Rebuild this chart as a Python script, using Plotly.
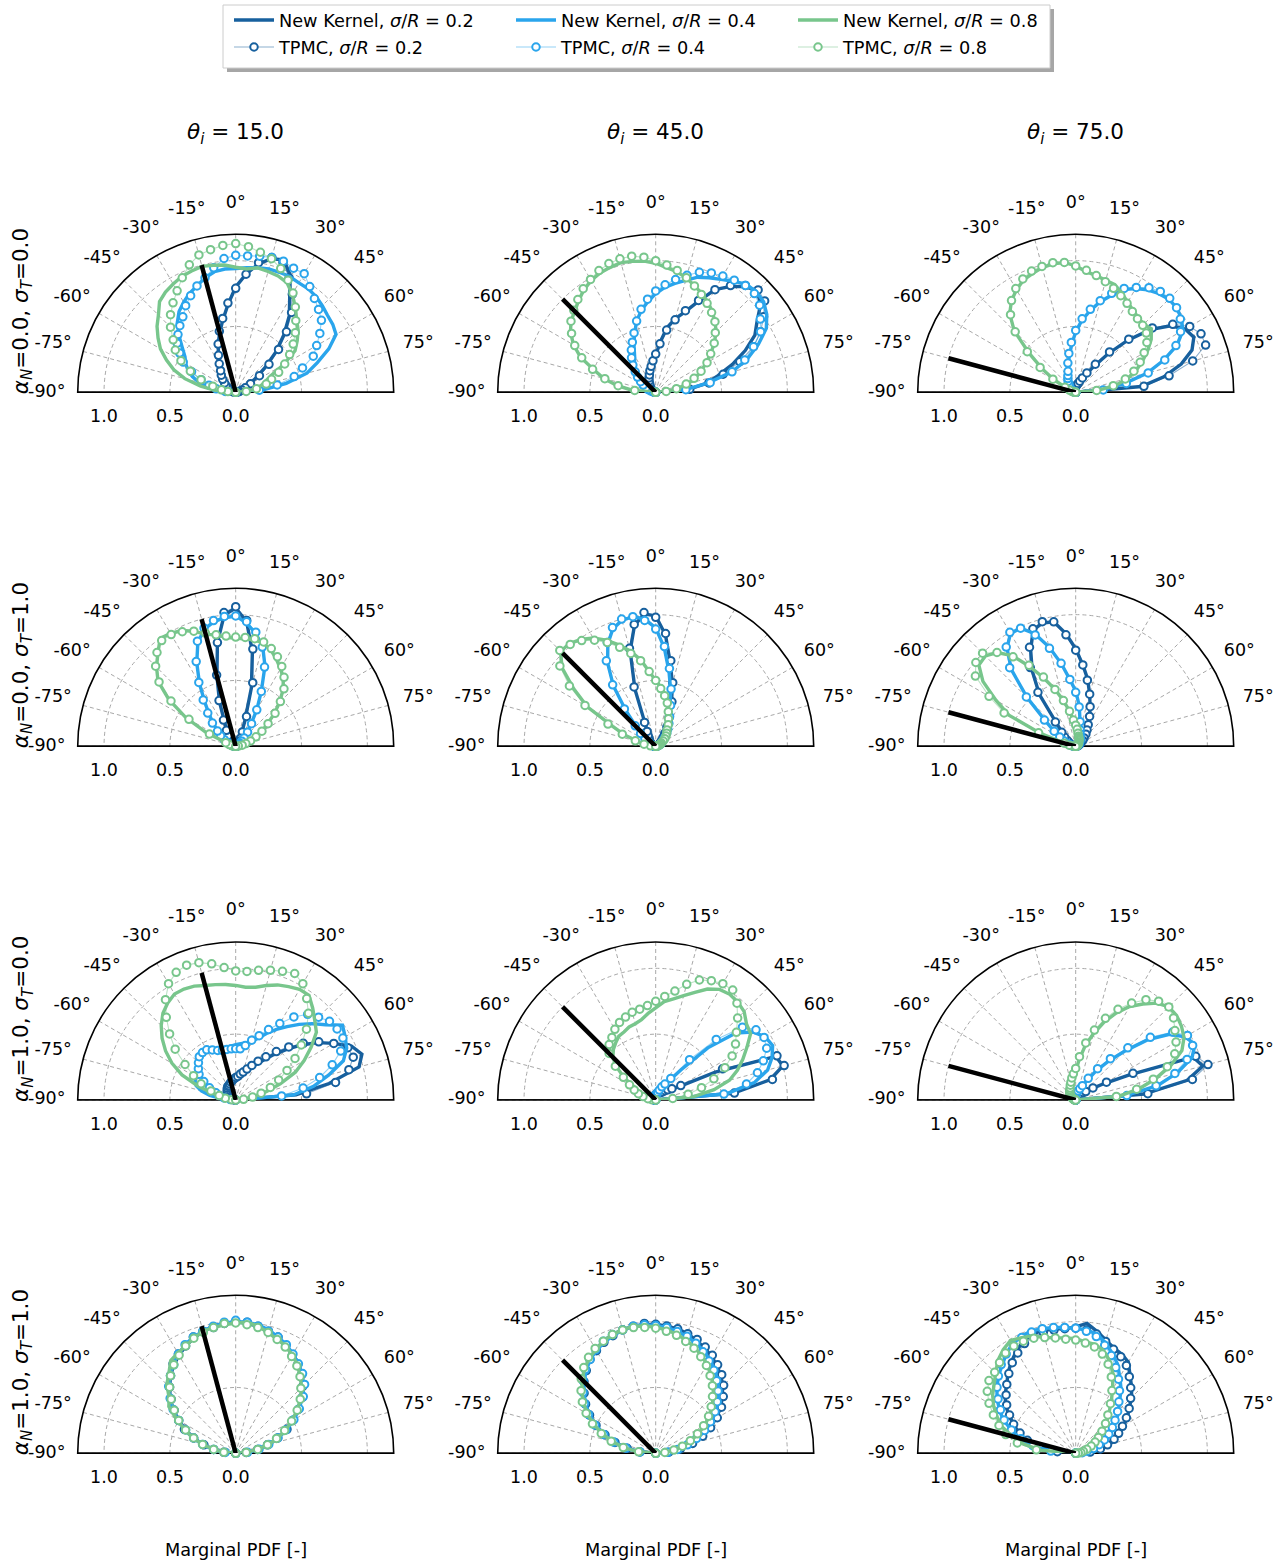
import plotly.graph_objects as go

W, H = 1288, 1564

THETA = [-90, -85, -80, -75, -70, -65, -60, -55, -50, -45, -40, -35, -30, -25, -20, -15, -10, -5,
         0, 5, 10, 15, 20, 25, 30, 35, 40, 45, 50, 55, 60, 65, 70, 75, 80, 85, 90]
ROW_KEYS = ["A0S0", "A0S1", "A1S0", "A1S1"]
ROW_LABELS = [
    "<i>α</i><sub><i>N</i></sub>=0.0, <i>σ</i><sub><i>T</i></sub>=0.0",
    "<i>α</i><sub><i>N</i></sub>=0.0, <i>σ</i><sub><i>T</i></sub>=1.0",
    "<i>α</i><sub><i>N</i></sub>=1.0, <i>σ</i><sub><i>T</i></sub>=0.0",
    "<i>α</i><sub><i>N</i></sub>=1.0, <i>σ</i><sub><i>T</i></sub>=1.0",
]
COL_KEYS = ["T15", "T45", "T75"]
THETA_I = [15.0, 45.0, 75.0]
SIGMA_KEYS = ["02", "04", "08"]
SIGMA_LABELS = ["0.2", "0.4", "0.8"]
COLORS = ["#17609e", "#2aa5ec", "#78c68c"]
ANG_TICKS = [-90, -75, -60, -45, -30, -15, 0, 15, 30, 45, 60, 75]
ANG_TEXT = ["-90°", "-75°", "-60°", "-45°", "-30°", "-15°", "0°", "15°", "30°", "45°", "60°", "75°"]
ANG_LABEL_R = 1.435
R_TICKS = [0.0, 0.5, 1.0]
R_TEXT = ["0.0", "0.5", "1.0"]
R_MAX = 1.2
LABEL_RANGE = 1.5
INCIDENT_R = 1.0
XLABEL = "Marginal PDF [-]"

# ---------------- row 1: alpha_N = 0, sigma_T = 0 ----------------
NK02_A0S0_T15 = [0, .01, .02, .03, .04, .05, .07, .09, .11, .13, .16, .2, .24, .31, .39, .47, .56, .67, .8, .9, .99, 1.05, 1.07, .98, .82, .71, .57, .43, .29, .18, .11, .07, .04, .02, .01, .01, 0]
TP02_A0S0_T15 = [0, .01, .02, .03, .04, .05, .07, .09, .11, .14, .17, .2, .25, .31, .39, .48, .57, .68, .79, .9, 1.0, 1.06, 1.05, .96, .86, .74, .6, .46, .33, .22, .13, .08, .05, .03, .02, .01, 0]
NK04_A0S0_T15 = [0, .1, .2, .29, .35, .4, .44, .47, .53, .61, .69, .75, .79, .83, .86, .9, .93, .94, .94, .95, .96, .97, .97, .97, .96, .96, .95, .93, .91, .9, .88, .78, .66, .56, .39, .21, 0]
TP04_A0S0_T15 = [0, .08, .15, .21, .28, .37, .46, .52, .58, .62, .66, .7, .76, .81, .86, .9, .96, 1.02, 1.04, 1.04, 1.05, 1.06, 1.06, 1.04, 1.04, .98, .93, .89, .85, .78, .71, .65, .54, .46, .32, .18, 0]
NK08_A0S0_T15 = [0, .15, .27, .4, .5, .58, .66, .72, .78, .83, .9, .93, .95, .97, .98, .99, .98, .97, .95, .94, .96, .95, .94, .92, .86, .79, .72, .67, .61, .55, .42, .29, .24, .2, .15, .09, 0]
TP08_A0S0_T15 = [0, .06, .11, .18, .28, .38, .48, .56, .62, .7, .77, .83, .89, .96, 1.03, 1.08, 1.1, 1.12, 1.13, 1.11, 1.08, 1.05, 1.0, .94, .87, .79, .71, .64, .57, .5, .43, .36, .29, .24, .16, .08, 0]

NK02_A0S0_T45 = [0, 0, .01, .01, .02, .02, .03, .04, .05, .06, .07, .08, .1, .12, .14, .17, .21, .25, .28, .38, .5, .58, .65, .76, .9, .98, 1.05, 1.09, 1.04, .94, .87, .75, .62, .49, .39, .25, 0]
TP02_A0S0_T45 = [0, 0, .01, .01, .02, .02, .03, .04, .05, .06, .07, .08, .1, .12, .14, .17, .2, .24, .29, .37, .48, .57, .66, .77, .9, .99, 1.06, 1.1, 1.08, 1.0, .92, .82, .68, .53, .41, .26, 0]
NK04_A0S0_T45 = [0, .01, .02, .04, .06, .08, .1, .13, .16, .2, .24, .28, .32, .39, .47, .56, .63, .69, .75, .8, .84, .88, .93, .96, .99, 1.03, 1.07, 1.08, 1.07, 1.03, .97, .86, .74, .6, .4, .22, 0]
TP04_A0S0_T45 = [0, .01, .02, .04, .06, .08, .11, .14, .18, .22, .27, .32, .37, .42, .48, .56, .64, .71, .77, .82, .87, .92, .97, 1.0, 1.02, 1.04, 1.06, 1.06, 1.03, .97, .92, .82, .72, .6, .42, .23, 0]
NK08_A0S0_T45 = [0, .18, .3, .41, .5, .63, .72, .79, .84, .87, .91, .95, .98, 1.0, 1.01, 1.02, 1.01, 1.0, .98, .95, .93, .9, .86, .83, .79, .75, .7, .65, .58, .51, .44, .38, .32, .25, .17, .09, 0]
TP08_A0S0_T45 = [0, .16, .29, .4, .51, .62, .71, .78, .84, .88, .92, .96, .99, 1.02, 1.04, 1.05, 1.05, 1.03, 1.0, .97, .94, .9, .86, .82, .78, .74, .7, .64, .58, .51, .45, .38, .31, .24, .16, .08, 0]

NK02_A0S0_T75 = [0, 0, 0, 0, 0, .01, .01, .01, .01, .01, .02, .02, .02, .02, .03, .03, .03, .04, .04, .05, .06, .07, .09, .12, .16, .24, .38, .56, .74, .88, .96, .99, .94, .83, .68, .5, 0]
TP02_A0S0_T75 = [0, 0, 0, 0, 0, .01, .01, .01, .01, .01, .02, .02, .02, .02, .03, .03, .03, .04, .04, .05, .06, .07, .09, .12, .17, .26, .4, .57, .76, .9, 1.0, 1.05, 1.05, .92, .72, .52, 0]
NK04_A0S0_T75 = [0, 0, .01, .01, .02, .03, .04, .05, .06, .07, .08, .1, .12, .14, .16, .22, .28, .36, .46, .55, .63, .71, .78, .86, .91, .95, .98, 1.0, 1.0, .98, .94, .85, .71, .56, .37, .2, 0]
TP04_A0S0_T75 = [0, 0, .01, .01, .02, .03, .04, .05, .06, .07, .08, .1, .12, .14, .17, .23, .3, .38, .47, .56, .64, .72, .8, .87, .92, .97, 1.0, 1.01, 1.0, .97, .92, .84, .72, .57, .39, .21, 0]
NK08_A0S0_T75 = [0, .01, .02, .03, .05, .08, .19, .31, .46, .66, .78, .85, .9, .94, .96, .98, .99, .99, .96, .92, .9, .88, .87, .83, .79, .76, .74, .73, .75, .7, .63, .56, .49, .41, .31, .17, 0]
TP08_A0S0_T75 = [0, .01, .02, .03, .05, .09, .2, .33, .48, .65, .77, .85, .91, .95, .98, .99, 1.0, .99, .96, .93, .9, .87, .84, .81, .78, .75, .73, .72, .7, .66, .6, .54, .47, .39, .29, .16, 0]

# ---------------- row 2: alpha_N = 0, sigma_T = 1 ----------------
NK02_A0S1_T15 = [0, .01, .01, .01, .02, .02, .03, .04, .05, .06, .08, .1, .13, .2, .36, .55, .8, 1.0, 1.05, .95, .73, .46, .2, .1, .07, .05, .04, .03, .02, .02, .01, .01, .01, .01, 0, 0, 0]
TP02_A0S1_T15 = [0, .01, .01, .01, .02, .02, .03, .04, .05, .06, .08, .1, .14, .22, .37, .56, .8, 1.02, 1.06, .96, .75, .5, .24, .12, .07, .05, .04, .03, .02, .02, .01, .01, .01, .01, 0, 0, 0]
NK04_A0S1_T15 = [0, .01, .02, .03, .05, .07, .1, .13, .17, .24, .31, .41, .55, .7, .84, .92, .96, .98, .99, .94, .87, .79, .65, .46, .32, .2, .13, .09, .06, .04, .03, .02, .01, .01, 0, 0, 0]
TP04_A0S1_T15 = [0, .01, .02, .03, .05, .07, .1, .14, .18, .25, .33, .43, .56, .71, .85, .93, .97, .99, .99, .95, .88, .78, .64, .46, .32, .21, .14, .09, .06, .04, .03, .02, .01, .01, 0, 0, 0]
NK08_A0S1_T15 = [0, .02, .04, .06, .07, .25, .44, .62, .77, .85, .92, 1.0, .99, .97, .93, .88, .86, .83, .82, .82, .82, .81, .78, .73, .68, .63, .56, .47, .38, .29, .23, .17, .12, .08, .05, .02, 0]
TP08_A0S1_T15 = [0, .02, .03, .05, .08, .22, .41, .6, .76, .86, .93, .98, .98, .96, .93, .89, .86, .84, .83, .83, .83, .82, .79, .75, .7, .64, .57, .48, .39, .3, .23, .17, .12, .08, .05, .02, 0]

NK02_A0S1_T45 = [0, .01, .01, .02, .02, .03, .04, .05, .06, .07, .08, .1, .12, .19, .46, .75, .93, 1.01, .99, .85, .64, .49, .35, .23, .17, .12, .09, .07, .05, .04, .03, .02, .02, .01, .01, 0, 0]
TP02_A0S1_T45 = [0, .01, .01, .02, .02, .03, .04, .05, .06, .07, .08, .1, .13, .2, .48, .77, .94, 1.02, .98, .86, .66, .5, .36, .24, .17, .12, .09, .07, .05, .04, .03, .02, .02, .01, .01, 0, 0]
NK04_A0S1_T45 = [0, .01, .02, .03, .04, .05, .07, .1, .15, .21, .35, .56, .73, .86, .95, .99, 1.0, .97, .9, .75, .58, .44, .32, .25, .2, .16, .13, .1, .08, .06, .05, .04, .03, .02, .01, .01, 0]
TP04_A0S1_T45 = [0, .01, .02, .03, .04, .05, .07, .1, .15, .22, .37, .57, .75, .87, .96, 1.0, 1.0, .96, .89, .76, .6, .45, .33, .25, .2, .16, .13, .1, .08, .06, .05, .04, .03, .02, .01, .01, 0]
NK08_A0S1_T45 = [0, .04, .08, .14, .25, .36, .6, .76, .93, 1.02, 1.02, .99, .95, .89, .82, .75, .67, .57, .5, .45, .4, .34, .29, .23, .19, .16, .13, .11, .09, .07, .05, .04, .03, .02, .01, .01, 0]
TP08_A0S1_T45 = [0, .04, .09, .16, .27, .4, .62, .8, .95, 1.03, 1.01, .98, .93, .87, .8, .73, .66, .57, .5, .44, .39, .34, .28, .23, .19, .15, .13, .11, .09, .07, .05, .04, .03, .02, .01, .01, 0]

NK02_A0S1_T75 = [0, .01, .02, .03, .04, .05, .06, .08, .11, .14, .22, .48, .66, .81, .94, .97, .96, .86, .74, .62, .52, .41, .32, .25, .19, .15, .12, .09, .07, .05, .04, .03, .02, .02, .01, .01, 0]
TP02_A0S1_T75 = [0, .01, .02, .03, .04, .05, .06, .08, .11, .15, .24, .5, .69, .83, .95, .98, .96, .85, .73, .62, .51, .41, .32, .25, .19, .15, .12, .09, .07, .05, .04, .03, .02, .02, .01, .01, 0]
NK04_A0S1_T75 = [0, .02, .03, .05, .07, .1, .14, .2, .3, .52, .76, .91, .99, .99, .91, .78, .64, .51, .42, .31, .19, .13, .1, .08, .07, .06, .05, .04, .03, .03, .02, .02, .01, .01, .01, 0, 0]
TP04_A0S1_T75 = [0, .02, .03, .05, .07, .1, .14, .2, .31, .53, .78, .92, 1.0, .99, .9, .77, .64, .51, .41, .3, .19, .13, .1, .08, .07, .06, .05, .04, .03, .03, .02, .02, .01, .01, .01, 0, 0]
NK08_A0S1_T75 = [0, .02, .05, .08, .28, .56, .7, .86, .96, .97, .93, .84, .7, .57, .46, .36, .27, .2, .16, .13, .1, .08, .07, .06, .05, .04, .03, .03, .02, .02, .01, .01, .01, .01, 0, 0, 0]
TP08_A0S1_T75 = [0, .02, .05, .09, .3, .6, .76, .93, .99, 1.0, .93, .83, .71, .58, .46, .36, .27, .2, .16, .13, .1, .08, .07, .06, .05, .04, .03, .03, .02, .02, .01, .01, .01, .01, 0, 0, 0]

# ---------------- row 3: alpha_N = 1, sigma_T = 0 ----------------
NK02_A1S0_T15 = [0, .01, .02, .03, .04, .05, .06, .07, .08, .09, .1, .11, .12, .12, .13, .14, .15, .16, .17, .18, .19, .21, .23, .27, .31, .37, .45, .54, .65, .76, .86, .97, 1.02, .97, .72, .46, 0]
TP02_A1S0_T15 = [0, .01, .02, .03, .04, .05, .06, .07, .08, .09, .1, .11, .12, .12, .13, .14, .15, .16, .17, .18, .2, .22, .25, .29, .34, .4, .48, .57, .67, .77, .86, .94, .95, .89, .77, .54, 0]
NK04_A1S0_T15 = [0, .1, .2, .27, .32, .34, .35, .36, .38, .4, .42, .43, .43, .42, .41, .41, .41, .41, .42, .43, .44, .46, .5, .56, .62, .68, .75, .82, .89, .99, .96, .93, .87, .73, .6, .44, 0]
TP04_A1S0_T15 = [0, .04, .09, .13, .16, .22, .28, .34, .37, .4, .43, .44, .44, .42, .4, .39, .39, .39, .39, .39, .42, .47, .52, .59, .67, .77, .85, .89, .93, .94, .94, .88, .78, .66, .52, .35, 0]
NK08_A1S0_T15 = [0, .02, .06, .15, .3, .45, .56, .65, .73, .8, .86, .9, .93, .93, .92, .9, .89, .88, .87, .86, .87, .9, .93, .95, .97, .97, .91, .85, .8, .7, .6, .5, .36, .24, .12, .05, 0]
TP08_A1S0_T15 = [0, .03, .08, .13, .2, .29, .37, .47, .6, .71, .82, .93, 1.02, 1.07, 1.09, 1.08, 1.05, 1.01, .98, .98, 1.0, 1.02, 1.04, 1.06, 1.02, .94, .86, .76, .65, .55, .45, .36, .28, .2, .13, .06, 0]

NK02_A1S0_T45 = [0, .01, .01, .01, .01, .01, .01, .02, .02, .02, .02, .02, .02, .03, .03, .03, .03, .03, .04, .04, .05, .05, .06, .06, .07, .07, .08, .09, .11, .14, .2, .5, .97, 1.0, .88, .59, 0]
TP02_A1S0_T45 = [0, .01, .01, .01, .01, .01, .01, .02, .02, .02, .02, .02, .02, .03, .03, .03, .03, .03, .04, .04, .05, .05, .06, .06, .07, .07, .08, .1, .12, .15, .22, .56, .98, 1.01, .9, .6, 0]
NK04_A1S0_T45 = [0, .01, .01, .01, .01, .01, .02, .02, .02, .02, .02, .02, .03, .03, .03, .03, .03, .03, .04, .04, .05, .06, .08, .1, .13, .18, .3, .56, .79, .9, .96, .98, .94, .88, .76, .54, 0]
TP04_A1S0_T45 = [0, .01, .01, .01, .01, .01, .02, .02, .02, .02, .02, .02, .03, .03, .03, .03, .03, .03, .04, .04, .05, .06, .08, .11, .14, .2, .4, .65, .86, .93, .95, .93, .87, .8, .7, .52, 0]
NK08_A1S0_T45 = [0, .02, .04, .07, .1, .13, .17, .29, .38, .46, .5, .53, .56, .57, .59, .6, .62, .66, .7, .75, .78, .82, .87, .93, .97, .98, .97, .95, .9, .88, .8, .73, .66, .58, .45, .29, 0]
TP08_A1S0_T45 = [0, .03, .06, .1, .14, .18, .23, .3, .4, .5, .55, .58, .62, .65, .67, .69, .7, .72, .75, .79, .84, .91, .97, 1.0, 1.02, 1.02, .96, .88, .8, .74, .67, .58, .47, .36, .25, .13, 0]

NK02_A1S0_T75 = [0, 0, 0, 0, .01, .01, .01, .01, .01, .01, .01, .01, .01, .02, .02, .02, .02, .02, .02, .03, .03, .03, .04, .04, .05, .05, .06, .08, .1, .15, .25, .45, .95, 1.0, .86, .52, 0]
TP02_A1S0_T75 = [0, 0, 0, 0, .01, .01, .01, .01, .01, .01, .01, .01, .01, .02, .02, .02, .02, .02, .02, .03, .03, .03, .04, .04, .05, .05, .06, .08, .1, .16, .27, .48, .97, 1.04, .9, .55, 0]
NK04_A1S0_T75 = [0, 0, 0, .01, .01, .01, .01, .01, .01, .02, .02, .02, .02, .02, .03, .03, .03, .04, .04, .05, .06, .07, .09, .12, .17, .27, .38, .52, .71, .87, .96, 1.0, .94, .8, .63, .38, 0]
TP04_A1S0_T75 = [0, 0, 0, .01, .01, .01, .01, .01, .01, .02, .02, .02, .02, .02, .03, .03, .03, .04, .04, .05, .06, .07, .09, .12, .19, .29, .41, .56, .74, .9, .98, .98, .9, .78, .62, .39, 0]
NK08_A1S0_T75 = [0, .01, .01, .01, .02, .02, .03, .04, .05, .06, .07, .08, .09, .1, .11, .13, .16, .19, .22, .31, .42, .52, .63, .73, .82, .89, .96, 1.0, 1.0, .98, .95, .89, .77, .63, .49, .33, 0]
TP08_A1S0_T75 = [0, .01, .01, .01, .02, .02, .03, .04, .05, .06, .07, .08, .09, .1, .12, .14, .17, .2, .24, .33, .44, .55, .66, .76, .85, .93, .98, 1.0, .97, .92, .88, .83, .74, .61, .47, .31, 0]

# ---------------- row 4: alpha_N = 1, sigma_T = 1 ----------------
NK02_A1S1_T15 = [0, .08, .17, .26, .34, .42, .5, .58, .65, .71, .77, .82, .86, .9, .93, .96, .98, .99, 1.0, .99, .98, .96, .93, .9, .87, .83, .78, .73, .66, .58, .5, .42, .34, .26, .17, .09, 0]
TP02_A1S1_T15 = [0, .09, .17, .25, .34, .43, .5, .57, .64, .71, .77, .83, .87, .9, .94, .96, .97, .99, 1.0, 1.0, .98, .96, .94, .9, .86, .82, .78, .72, .66, .58, .5, .43, .34, .25, .17, .08, 0]
NK04_A1S1_T15 = [0, .09, .18, .26, .35, .43, .51, .58, .66, .72, .78, .83, .87, .91, .94, .96, .98, .99, 1.0, 1.0, .99, .97, .94, .91, .87, .83, .78, .73, .66, .59, .51, .43, .35, .26, .17, .09, 0]
TP04_A1S1_T15 = [0, .08, .17, .26, .34, .42, .5, .58, .65, .72, .77, .82, .87, .91, .94, .96, .98, 1.0, 1.01, 1.0, .98, .96, .94, .91, .87, .83, .79, .74, .67, .59, .51, .42, .34, .26, .18, .09, 0]
NK08_A1S1_T15 = [0, .09, .17, .26, .35, .43, .52, .62, .66, .74, .79, .86, .88, .9, .93, .96, .97, .98, .99, 1.0, .98, .95, .92, .9, .86, .82, .76, .71, .64, .57, .49, .42, .34, .26, .17, .08, 0]
TP08_A1S1_T15 = [0, .09, .17, .26, .34, .42, .5, .57, .64, .71, .77, .82, .86, .9, .93, .95, .97, .99, .99, .98, .97, .95, .92, .89, .85, .81, .76, .7, .64, .57, .49, .41, .33, .25, .17, .08, 0]

NK02_A1S1_T45 = [0, .12, .23, .33, .42, .5, .58, .65, .72, .78, .83, .87, .91, .94, .96, .97, .98, .98, .98, .97, .96, .94, .91, .88, .85, .81, .77, .72, .66, .6, .53, .45, .37, .28, .19, .1, 0]
TP02_A1S1_T45 = [0, .12, .22, .32, .41, .5, .58, .65, .71, .77, .82, .87, .9, .93, .95, .97, .98, .99, .98, .97, .96, .94, .92, .89, .86, .82, .78, .73, .67, .61, .54, .46, .38, .29, .19, .1, 0]
NK04_A1S1_T45 = [0, .12, .23, .33, .42, .5, .58, .65, .71, .77, .82, .87, .9, .93, .95, .97, .98, .98, .97, .96, .94, .92, .89, .86, .82, .78, .73, .68, .62, .56, .49, .42, .34, .26, .17, .09, 0]
TP04_A1S1_T45 = [0, .12, .23, .33, .42, .51, .59, .66, .72, .78, .83, .87, .91, .94, .96, .97, .98, .98, .97, .96, .94, .92, .89, .85, .81, .77, .72, .67, .61, .55, .48, .41, .33, .25, .17, .09, 0]
NK08_A1S1_T45 = [0, .13, .24, .34, .43, .52, .6, .67, .73, .79, .84, .88, .91, .94, .96, .97, .98, .97, .96, .94, .92, .89, .86, .82, .78, .73, .68, .62, .56, .5, .43, .36, .29, .22, .15, .08, 0]
TP08_A1S1_T45 = [0, .13, .25, .35, .44, .53, .61, .68, .74, .8, .85, .89, .92, .94, .96, .97, .97, .96, .95, .93, .91, .88, .85, .81, .77, .72, .67, .61, .55, .49, .42, .35, .28, .21, .14, .07, 0]

NK02_A1S1_T75 = [0, .15, .3, .39, .46, .52, .59, .65, .7, .74, .8, .85, .9, .94, .96, .97, .96, .95, .96, .99, .94, .89, .85, .83, .8, .72, .66, .6, .53, .48, .42, .37, .32, .27, .21, .12, 0]
TP02_A1S1_T75 = [0, .14, .28, .38, .45, .52, .58, .64, .69, .74, .79, .84, .88, .92, .94, .95, .95, .95, .95, .94, .92, .88, .84, .81, .77, .71, .65, .59, .53, .47, .41, .36, .31, .25, .19, .11, 0]
NK04_A1S1_T75 = [0, .2, .34, .44, .52, .61, .67, .73, .78, .83, .87, .92, .96, .98, .99, .98, .97, .96, .95, .94, .92, .87, .81, .75, .67, .6, .52, .46, .41, .35, .29, .25, .2, .15, .1, .05, 0]
TP04_A1S1_T75 = [0, .19, .33, .43, .52, .6, .66, .72, .78, .83, .88, .92, .95, .97, .98, .98, .97, .96, .95, .93, .9, .85, .79, .72, .65, .58, .51, .45, .39, .34, .29, .24, .19, .14, .09, .05, 0]
NK08_A1S1_T75 = [0, .27, .4, .5, .6, .66, .72, .77, .81, .86, .92, .96, .99, .97, .95, .91, .89, .88, .87, .85, .84, .81, .75, .67, .56, .47, .39, .33, .27, .22, .17, .13, .09, .06, .04, .02, 0]
TP08_A1S1_T75 = [0, .3, .45, .55, .62, .69, .76, .82, .86, .87, .9, .93, .94, .94, .93, .91, .89, .87, .86, .84, .82, .78, .72, .64, .55, .46, .38, .32, .26, .21, .17, .13, .09, .06, .04, .02, 0]

# ---------------- layout geometry (pixels) ----------------
CX = [235.7, 655.7, 1075.7]
BY = [392.3, 746.3, 1100.0, 1453.3]
RAD = 158.0
RAD_LBL = RAD * LABEL_RANGE / R_MAX
FONT = "DejaVu Sans"
TICK_SIZE = 17.5
R_LABEL_PAD = 25.6   # invisible marker size that pushes the radial labels below the baseline
GRID = dict(showgrid=True, gridcolor="#a8a8a8", gridwidth=1.0, griddash="4px,3px")


def rgba(hx, a):
    hx = hx.lstrip("#")
    return "rgba(%d,%d,%d,%.2f)" % (int(hx[0:2], 16), int(hx[2:4], 16), int(hx[4:6], 16), a)


HIDDEN_AXIS = dict(showline=False, showgrid=False, showticklabels=False, ticks="")

G = globals()
fig = go.Figure()
layout_polars = {}
n_panels = len(ROW_KEYS) * len(COL_KEYS)

for ri, rk in enumerate(ROW_KEYS):
    for ci, ck in enumerate(COL_KEYS):
        k = ri * 3 + ci + 1
        pname = "polar" if k == 1 else "polar%d" % k
        lname = "polar%d" % (k + n_panels)
        # frame baseline (diameter of the half disc)
        fig.add_trace(go.Scatterpolar(r=[R_MAX, 0, R_MAX], theta=[-90, 0, 90], mode="lines",
                                      line=dict(color="black", width=1.5), subplot=pname,
                                      showlegend=False, hoverinfo="skip", cliponaxis=False))
        for si, sk in enumerate(SIGMA_KEYS):
            nk = G["NK%s_%s_%s" % (sk, rk, ck)]
            tp = G["TP%s_%s_%s" % (sk, rk, ck)]
            assert len(nk) == len(THETA) and len(tp) == len(THETA), (sk, rk, ck)
            first = (k == 1)
            fig.add_trace(go.Scatterpolar(
                r=nk, theta=THETA, mode="lines",
                line=dict(color=COLORS[si], width=3.4),
                name="New Kernel, <i>σ</i>/<i>R</i> = %s" % SIGMA_LABELS[si],
                legend="legend", legendrank=si + 1, showlegend=first, subplot=pname))
            fig.add_trace(go.Scatterpolar(
                r=tp, theta=THETA, mode="lines+markers",
                line=dict(color=rgba(COLORS[si], 0.5), width=1.1),
                marker=dict(symbol="circle", size=7.5, color="white",
                            line=dict(color=COLORS[si], width=2)),
                name="TPMC, <i>σ</i>/<i>R</i> = %s" % SIGMA_LABELS[si],
                legend="legend2", legendrank=si + 1, showlegend=first, subplot=pname))
        fig.add_trace(go.Scatterpolar(r=[0, INCIDENT_R], theta=[-THETA_I[ci], -THETA_I[ci]],
                                      mode="lines", line=dict(color="black", width=4.5),
                                      subplot=pname, showlegend=False, hoverinfo="skip"))
        # radial tick labels: under each tick value on the left half of the baseline
        fig.add_trace(go.Scatterpolar(r=R_TICKS, theta=[-90] * len(R_TICKS),
                                      mode="markers+text", text=R_TEXT,
                                      textposition="bottom center",
                                      marker=dict(size=R_LABEL_PAD, color="rgba(0,0,0,0)",
                                                  line=dict(width=0)),
                                      textfont=dict(family=FONT, size=TICK_SIZE, color="black"),
                                      subplot=pname, showlegend=False, hoverinfo="skip",
                                      cliponaxis=False))

        # angular tick labels live on a transparent overlay polar with the same centre and scale
        fig.add_trace(go.Scatterpolar(r=[ANG_LABEL_R] * len(ANG_TICKS), theta=ANG_TICKS,
                                      mode="text", text=ANG_TEXT, textposition="middle center",
                                      textfont=dict(family=FONT, size=TICK_SIZE, color="black"),
                                      subplot=lname, showlegend=False, hoverinfo="skip",
                                      cliponaxis=False))

        cx, by = CX[ci], BY[ri]
        layout_polars[pname] = dict(
            domain=dict(x=[(cx - RAD) / W, (cx + RAD) / W], y=[1 - by / H, 1 - (by - RAD) / H]),
            sector=[0, 180], bgcolor="white",
            angularaxis=dict(rotation=90, direction="clockwise", tickmode="array",
                             tickvals=ANG_TICKS, showticklabels=False,
                             showline=True, linecolor="black", linewidth=1.6,
                             ticks="", layer="below traces", **GRID),
            radialaxis=dict(range=[0, R_MAX], tickmode="array", tickvals=R_TICKS,
                            showticklabels=False, angle=180, showline=False, ticks="",
                            layer="below traces", **GRID),
        )
        layout_polars[lname] = dict(
            domain=dict(x=[(cx - RAD_LBL) / W, (cx + RAD_LBL) / W],
                        y=[1 - (by + 0.342 * RAD_LBL) / H, 1 - (by - RAD_LBL) / H]),
            sector=[-20, 200], bgcolor="rgba(0,0,0,0)",
            angularaxis=dict(rotation=90, direction="clockwise", **HIDDEN_AXIS),
            radialaxis=dict(range=[0, LABEL_RANGE], **HIDDEN_AXIS),
        )

annotations = []
for ci in range(3):
    annotations.append(dict(text="<i>θ</i><sub><i>i</i></sub> = %.1f" % THETA_I[ci],
                            x=CX[ci] / W, y=1 - 134 / H, xref="paper", yref="paper",
                            xanchor="center", yanchor="middle", showarrow=False,
                            font=dict(family=FONT, size=21.5, color="black")))
    annotations.append(dict(text=XLABEL, x=CX[ci] / W, y=1 - 1550 / H, xref="paper",
                            yref="paper", xanchor="center", yanchor="middle", showarrow=False,
                            font=dict(family=FONT, size=17.7, color="black")))
for ri in range(4):
    annotations.append(dict(text=ROW_LABELS[ri], x=22 / W, y=1 - (BY[ri] - RAD / 2 - 2) / H,
                            xref="paper", yref="paper", xanchor="center", yanchor="middle",
                            textangle=-90, showarrow=False,
                            font=dict(family=FONT, size=21.5, color="black")))

shapes = [
    dict(type="rect", xref="paper", yref="paper", x0=227 / W, x1=1054 / W,
         y0=1 - 72 / H, y1=1 - 9 / H, fillcolor="rgba(0,0,0,0.35)", line=dict(width=0),
         layer="below"),
    dict(type="rect", xref="paper", yref="paper", x0=223 / W, x1=1050 / W,
         y0=1 - 68 / H, y1=1 - 5 / H, fillcolor="white", line=dict(color="#cccccc", width=1),
         layer="below"),
]

legend_common = dict(orientation="h", xanchor="left", yanchor="top", bgcolor="rgba(0,0,0,0)",
                     borderwidth=0, font=dict(family=FONT, size=17.7, color="black"),
                     entrywidth=227, entrywidthmode="pixels", itemwidth=40,
                     traceorder="normal")

fig.update_layout(
    width=W, height=H, margin=dict(l=0, r=0, t=0, b=0),
    paper_bgcolor="white", plot_bgcolor="white",
    font=dict(family=FONT, size=17.5, color="black"),
    annotations=annotations, shapes=shapes,
    legend=dict(x=229 / W, y=1 - 2 / H, **legend_common),
    legend2=dict(x=229 / W, y=1 - 29 / H, **legend_common),
    **layout_polars,
)

fig.write_html("out.html", config={"displayModeBar": False},
               post_script="document.body.style.margin='0px';")
